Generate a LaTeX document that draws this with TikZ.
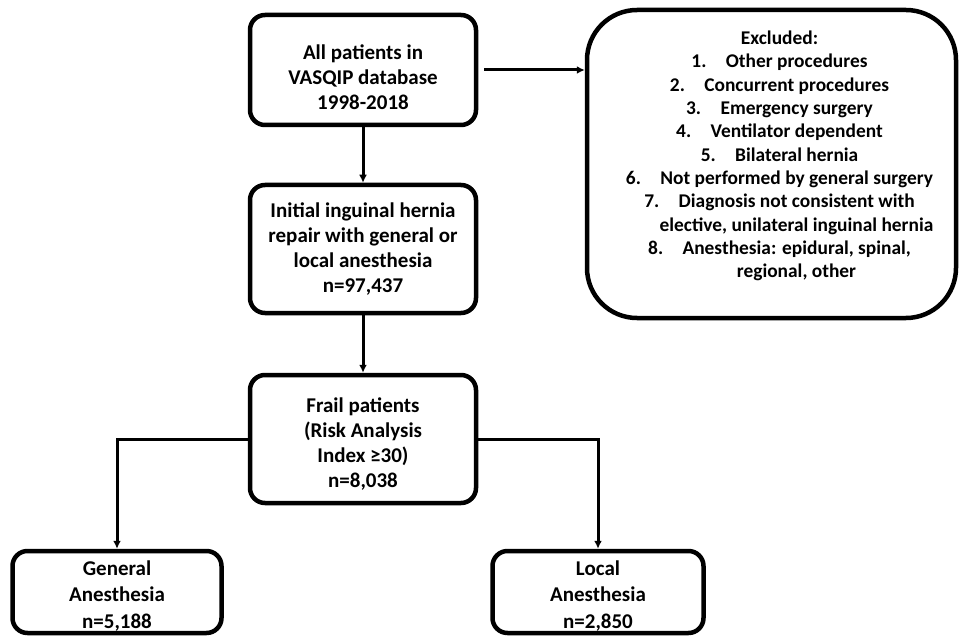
\documentclass[tikz,border=0pt]{standalone}
\usepackage{fontspec}
\setmainfont{Carlito}
\usetikzlibrary{positioning, arrows.meta}

\begin{document}
\begin{tikzpicture}[x=1pt, y=-1pt, on grid,
        box/.style={draw, line width=4.5pt, rounded corners=15pt, align=center,
            inner sep=0pt, font=\fontsize{21}{25}\selectfont\bfseries},
        endbox/.style={box, font=\fontsize{21}{26.5}\selectfont\bfseries},
        exclbox/.style={box, rounded corners=50pt,
            font=\fontsize{19.4}{23.3}\selectfont\bfseries},
        arrow/.style={-{Latex[length=8pt, width=8pt]}, line width=3pt}]
        \useasboundingbox (0,0) rectangle (959,639);
        % Define the nodes
        \node[box, minimum width=226pt, minimum height=110pt] (all) at (363,70) {\rule{0pt}{29pt}All patients in\\VASQIP database\\1998-2018};
        \node[box, minimum width=226pt, minimum height=128pt] (initial) [below=179pt of all] {Initial inguinal hernia\\repair with general or\\local anesthesia\\n=97,437};
        \node[box, minimum width=226pt, minimum height=128pt] (frail) [below=190pt of initial] {\rule{0pt}{25pt}Frail patients\\(Risk Analysis\\Index ≥30)\\n=8,038};
        \node[endbox, minimum width=209pt, minimum height=82pt] (general) [below left=153pt and 246pt of frail] {\rule{0pt}{22pt}General\\Anesthesia\\n=5,188};
        \node[endbox, minimum width=211pt, minimum height=82pt] (local) [below right=153pt and 235pt of frail] {\rule{0pt}{22pt}Local\\Anesthesia\\n=2,850};
        \node[exclbox, minimum width=369pt, minimum height=308pt] (excluded) [below right=94pt and 408.5pt of all] {\hspace*{16pt}\begin{tabular}{@{}c@{}}
            Excluded:\\
            1.\quad Other procedures\\
            2.\quad Concurrent procedures\\
            3.\quad Emergency surgery\\
            4.\quad Ventilator dependent\\
            5.\quad Bilateral hernia\\
            6.\quad Not performed by general surgery\\
            7.\quad Diagnosis not consistent with\\
            \hspace*{34pt}elective, unilateral inguinal hernia\\
            8.\quad Anesthesia: epidural, spinal,\\
            \hspace*{34pt}regional, other\rule[-22pt]{0pt}{0pt}
        \end{tabular}};
        % Define the arrows
        \draw[arrow] (all) -- (initial);
        \draw[arrow] (initial) -- (frail);
        \draw[arrow, shorten <=6pt] (all.east) -- (all.east -| excluded.west);
        \draw[arrow] (frail.west) -| (general.north);
        \draw[arrow] (frail.east) -| (local.north);
\end{tikzpicture}
\end{document}
